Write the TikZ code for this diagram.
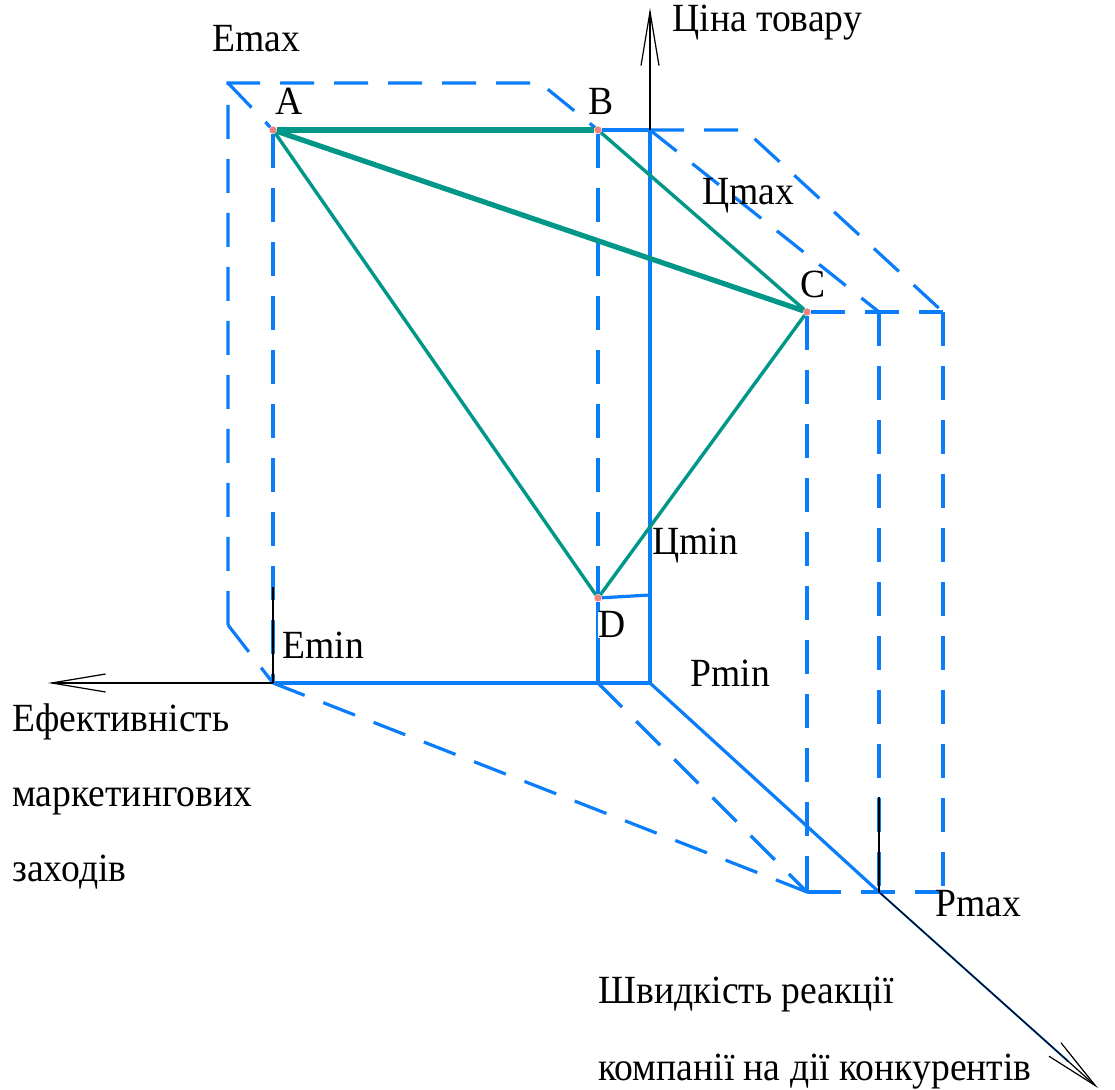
\documentclass[tikz,border=0pt]{standalone}
\usepackage{fontspec}
\setmainfont{Liberation Serif}[FakeStretch=0.94]
\definecolor{boxblue}{RGB}{10,125,250}
\definecolor{edgegreen}{RGB}{0,150,136}
\definecolor{ptpink}{RGB}{240,130,130}
\usetikzlibrary{arrows.meta}

\begin{document}
\begin{tikzpicture}[
    x=0.5pt, y=-0.5pt,
    sline/.style={boxblue, line width=1.6pt},
    dline/.style={boxblue, line width=1.6pt, dash pattern=on 17pt off 10pt},
    thk/.style={edgegreen, line width=2.6pt},
    thn/.style={edgegreen, line width=1.7pt},
    axis/.style={black, line width=0.6pt, -{Straight Barb[length=27pt, width=9pt]}},
    dot/.style={circle, fill=ptpink, inner sep=0pt, minimum size=3.5pt},
    lbl/.style={anchor=base west, inner sep=0pt, font=\fontsize{20}{24}\selectfont}
  ]
  \useasboundingbox (0,0) rectangle (1115,1090);

  % points of the triangle
  \node[dot] (A) at (273,130) {};
  \node[dot] (B) at (598,130) {};
  \node[dot] (C) at (807,312) {};
  \node[dot] (D) at (598,598) {};

  % box corners
  \coordinate (O) at (650,683);
  \coordinate (ytop) at (650,8);
  \coordinate (xend) at (48,683);
  \coordinate (zend) at (1098,1088);
  \coordinate (e1) at (228,83);
  \coordinate (e2) at (540,83);
  \coordinate (e3) at (228,625);
  \coordinate (emin) at (273,683);
  \coordinate (etick) at (273,587);
  \coordinate (dfoot) at (598,683);
  \coordinate (cmax) at (650,130);
  \coordinate (cmaxr) at (745,130);
  \coordinate (cmin) at (650,595);
  \coordinate (c2) at (879,312);
  \coordinate (c3) at (943,312);
  \coordinate (p1) at (807,892);
  \coordinate (pmax) at (879,892);
  \coordinate (ptick) at (879,797);
  \coordinate (p3) at (943,892);

  % dashed box edges
  \draw[dline] (e3) -- (e1) -- (e2) -- (B);
  \draw[dline] (e1) -- (A);
  \draw[dline] (e3) -- (emin);
  \draw[dline] (A) -- (emin);
  \draw[dline] (B) -- (D);
  \draw[dline] (cmax) -- (cmaxr) -- (c3);
  \draw[dline] (cmax) -- (c2);
  \draw[dline] (C) -- (c3);
  \draw[dline] (C) -- (p1);
  \draw[dline] (c2) -- (pmax);
  \draw[dline] (c3) -- (p3);
  \draw[dline] (p1) -- (p3);
  \draw[dline] (emin) -- (p1);
  \draw[dline] (dfoot) -- (p1);

  % solid box edges
  \draw[sline] (emin) -- (O);
  \draw[sline] (dfoot) -- (D);
  \draw[sline] (B) -- (cmax);
  \draw[sline] (cmax) -- (O);
  \draw[sline] (D) -- (cmin);
  \draw[sline] (O) -- (pmax);
  \draw[boxblue, line width=1pt, shorten >=20pt] (pmax) -- (zend);

  % triangle
  \draw[thk] (A) -- (B);
  \draw[thk] (A) -- (C);
  \draw[thn] (A) -- (D);
  \draw[thn] (B) -- (C);
  \draw[thn] (C) -- (D);

  % axes
  \draw[axis] (cmax) -- (ytop);
  \draw[axis] (emin) -- (xend);
  \draw[axis] (pmax) -- (zend);
  \draw[black, line width=0.6pt] (etick) -- (emin);
  \draw[black, line width=0.6pt] (ptick) -- (pmax);

  \node[dot] at (A) {};
  \node[dot] at (B) {};
  \node[dot] at (C) {};
  \node[dot] at (D) {};

  % labels
  \node[lbl] (emaxl) at (212,52) {Emax};
  \node[lbl] (labA) at (275,115) {A};
  \node[lbl] (labB) at (588,115) {B};
  \node[lbl] (cmaxl) at (702,205) {Цmax};
  \node[lbl] (labC) at (800,298) {C};
  \node[lbl] (cminl) at (652,555) {Цmin};
  \node[lbl, fill=white] (labD) at (598,638) {D};
  \node[lbl] (eminl) at (282,659) {Emin};
  \node[lbl] (pminl) at (690,687) {Pmin};
  \node[lbl] (pmaxl) at (935,917) {Pmax};
  \node[lbl] (yl) at (672,32) {Ціна товару};
  \node[lbl] (xl1) at (12,732) {Ефективність};
  \node[lbl] (xl2) at (12,807) {маркетингових};
  \node[lbl] (xl3) at (12,882) {заходів};
  \node[lbl] (zl1) at (598,1003) {Швидкість реакції};
  \node[lbl] (zl2) at (598,1080) {компанії на дії конкурентів};
\end{tikzpicture}
\end{document}
